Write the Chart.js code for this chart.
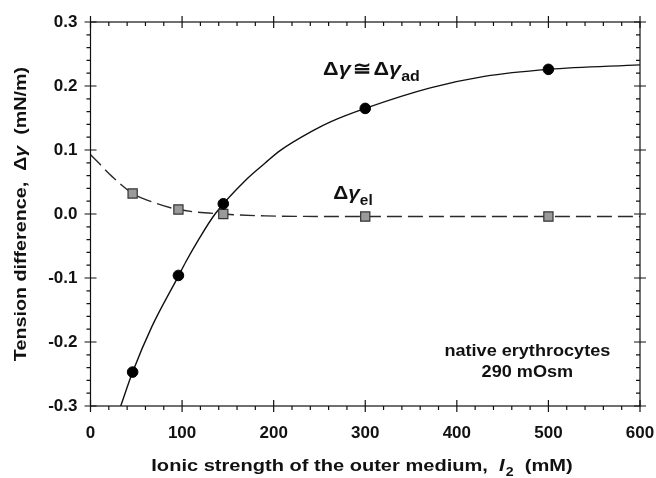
<!DOCTYPE html>
<html><head><meta charset="utf-8">
<script src="https://cdn.jsdelivr.net/npm/chart.js@4/dist/chart.umd.min.js"></script>
<style>html,body{margin:0;padding:0;background:#fff;}#wrap{width:656px;height:478px;position:relative;}</style>
</head><body><div id="wrap"><canvas id="c"></canvas></div>
<script>
// ---- data ----
const xTicks = [0, 100, 200, 300, 400, 500, 600];
const yTicks = [-0.3, -0.2, -0.1, 0.0, 0.1, 0.2, 0.3];
const ionicStrength = [46, 96, 145, 300, 500];
const deltaGamma = [-0.247, -0.096, 0.016, 0.165, 0.226];
const deltaGammaEl = [0.032, 0.007, 0.000, -0.004, -0.004];
const fitX = [33, 46, 67, 96, 104, 118, 136, 171, 191, 207, 244, 262, 300, 371, 430, 500, 600];
const fitY = [-0.300, -0.247, -0.176, -0.097, -0.075, -0.040, 0.000, 0.055, 0.080, 0.099, 0.131, 0.144, 0.165, 0.197, 0.215, 0.226, 0.233];
const elFitX = [0, 24, 46, 71, 96, 144, 191, 300, 500, 600];
const elFitY = [0.093, 0.058, 0.032, 0.017, 0.007, 0.000, -0.003, -0.004, -0.004, -0.004];

const FONT = '"Liberation Sans", Arial, Helvetica, sans-serif';
const pts = (xs, ys) => xs.map((x, i) => ({x: x, y: ys[i]}));

const decor = {
  id: 'decor',
  afterDraw(chart) {
    const ctx = chart.ctx, a = chart.chartArea;
    const xs = chart.scales.x, ys = chart.scales.y;
    ctx.save();
    ctx.strokeStyle = '#111'; ctx.lineWidth = 1.2;
    ctx.strokeRect(a.left, a.top, a.right - a.left, a.bottom - a.top);
    ctx.beginPath();
    for (let v = 0; v <= 600; v += 20) {
      const px = xs.getPixelForValue(v);
      const major = v % 100 === 0;
      if (major) {
        ctx.moveTo(px, a.bottom - 6); ctx.lineTo(px, a.bottom + 6);
        ctx.moveTo(px, a.top - 6); ctx.lineTo(px, a.top + 6);
      } else {
        ctx.moveTo(px, a.bottom); ctx.lineTo(px, a.bottom + 4);
        ctx.moveTo(px, a.top); ctx.lineTo(px, a.top + 4);
      }
    }
    for (let i = -15; i <= 15; i++) {
      const v = i * 0.02;
      const py = ys.getPixelForValue(v);
      const major = i % 5 === 0;
      if (major) {
        ctx.moveTo(a.left - 6, py); ctx.lineTo(a.left + 6, py);
        ctx.moveTo(a.right - 6, py); ctx.lineTo(a.right + 6, py);
      } else {
        ctx.moveTo(a.left - 4, py); ctx.lineTo(a.left, py);
        ctx.moveTo(a.right - 4, py); ctx.lineTo(a.right, py);
      }
    }
    ctx.stroke();

    ctx.fillStyle = '#111';
    ctx.textBaseline = 'alphabetic';
    ctx.textAlign = 'left';
    function width(parts) {
      let w = 0;
      for (const p of parts) { ctx.font = p[1]; w += ctx.measureText(p[0]).width + (p[3] || 0); }
      return w;
    }
    // draw a run of mixed-font text, stretched horizontally by sx; align: 0 left, 0.5 center
    function run(parts, x, y, sx, align) {
      const w = width(parts);
      ctx.save();
      ctx.translate(x, y);
      ctx.scale(sx, 1);
      let cx = -w * (align || 0);
      for (const p of parts) {
        ctx.font = p[1];
        ctx.fillText(p[0], cx, p[2] || 0);
        cx += ctx.measureText(p[0]).width + (p[3] || 0);
      }
      ctx.restore();
    }
    const B = 'bold 19px ' + FONT, BI = 'bold italic 19px ' + FONT, S = 'bold 14px ' + FONT;
    // curve labels
    run([['Δ', B], ['γ', BI, 0, 2], ['≅', B, 0, 2], ['Δ', B], ['γ', BI], ['ad', S, 6]],
        xs.getPixelForValue(254), ys.getPixelForValue(0.2175), 1.14, 0);
    run([['Δ', B], ['γ', BI], ['el', S, 6]],
        xs.getPixelForValue(265), ys.getPixelForValue(0.024), 1.1, 0);
    // condition text
    const C = 'bold 16px ' + FONT;
    run([['native erythrocytes', C]], xs.getPixelForValue(477), ys.getPixelForValue(-0.222), 1.13, 0.5);
    run([['290 mOsm', C]], xs.getPixelForValue(477), ys.getPixelForValue(-0.255), 1.13, 0.5);
    // axis titles
    const T = 'bold 17px ' + FONT, TI = 'bold italic 17px ' + FONT, TS = 'bold 12px ' + FONT;
    const xt = [['Ionic strength of the outer medium,  ', T], ['I', TI, 0, 1], ['2', TS, 5], ['  (mM)', T]];
    run(xt, 362, 471, 1.18, 0.5);
    const yt = [['Tension difference,  ', T], ['Δ', T], ['γ', TI], ['  (mN/m)', T]];
    ctx.save();
    ctx.translate(26, 214);
    ctx.rotate(-Math.PI / 2);
    run(yt, 0, 0, 1.16, 0.5);
    ctx.restore();
    ctx.restore();
  }
};

new Chart(document.getElementById('c'), {
  type: 'scatter',
  data: {
    datasets: [
      { label: 'fit el', data: pts(elFitX, elFitY), showLine: true, borderColor: '#2a2a2a', borderWidth: 1.4,
        borderDash: [15, 6], pointRadius: 0, cubicInterpolationMode: 'monotone', order: 4 },
      { label: 'fit ad', data: pts(fitX, fitY), showLine: true, borderColor: '#111', borderWidth: 1.4,
        pointRadius: 0, cubicInterpolationMode: 'monotone', order: 3 },
      { label: 'Δγ_el', data: pts(ionicStrength, deltaGammaEl), pointStyle: 'rect', pointRadius: 6.5,
        backgroundColor: '#9a9a9a', borderColor: '#333', borderWidth: 1.2, order: 2 },
      { label: 'Δγ', data: pts(ionicStrength, deltaGamma), pointStyle: 'circle', pointRadius: 5.3,
        backgroundColor: '#000', borderColor: '#000', borderWidth: 1, order: 1 }
    ]
  },
  options: {
    responsive: true, maintainAspectRatio: false, animation: false,
    layout: { padding: { left: 0, right: 16, top: 22, bottom: 0 } },
    plugins: { legend: { display: false }, tooltip: { enabled: false } },
    scales: {
      x: {
        type: 'linear', min: 0, max: 600,
        afterBuildTicks: s => { s.ticks = xTicks.map(v => ({value: v})); },
        afterFit: s => { s.height = 72; s.paddingLeft = 0; s.paddingRight = 0; },
        grid: { display: false, drawTicks: false }, border: { display: false },
        ticks: { padding: 17, color: '#111', font: { family: FONT, size: 17, weight: 'bold' } }
      },
      y: {
        type: 'linear', min: -0.3, max: 0.3,
        afterBuildTicks: s => { s.ticks = yTicks.map(v => ({value: v})); },
        afterFit: s => { s.width = 90.5; s.paddingTop = 0; s.paddingBottom = 0; },
        grid: { display: false, drawTicks: false }, border: { display: false },
        ticks: { padding: 13, color: '#111', font: { family: FONT, size: 17, weight: 'bold' },
                 callback: v => v.toFixed(1) }
      }
    }
  },
  plugins: [decor]
});
</script></body></html>
